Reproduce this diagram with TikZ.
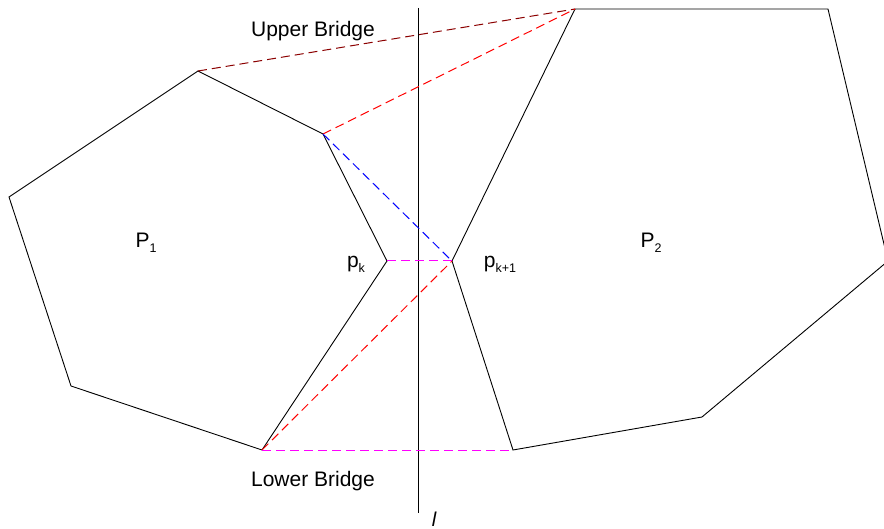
\documentclass[tikz,border=0pt]{standalone}
\usepackage{fontspec}
\setmainfont{Liberation Sans}
\definecolor{bridgedark}{RGB}{139,0,0}
\definecolor{bridgemag}{RGB}{255,0,255}
\newcommand\lowsub[1]{\raisebox{-0.45ex}{\fontsize{12.5}{13}\selectfont #1}}

\begin{document}
\begin{tikzpicture}[
  x=1pt, y=-1pt,
  hull/.style={draw, line width=0.9pt, line join=miter},
  brg/.style={line width=1pt, dash pattern=on 9pt off 5pt},
  lab/.style={font=\fontsize{21}{25}\selectfont, inner sep=0pt}
]
\useasboundingbox (0,0) rectangle (884,529);
\clip (0,0) rectangle (884,529);

% ── hull P1 (left) ───────────────────────────────────────────────────
\coordinate (a1) at (9,197);
\coordinate (a2) at (198,71);
\coordinate (a3) at (323,134);
\coordinate (pk) at (387,261);
\coordinate (a5) at (262,450);
\coordinate (a6) at (71,386);
\draw[hull] (a1) -- (a2) -- (a3) -- (pk) -- (a5) -- (a6) -- cycle;

% ── hull P2 (right) ──────────────────────────────────────────────────
\coordinate (b1) at (575,9);
\coordinate (b2) at (828,9);
\coordinate (b3) at (888,261);
\coordinate (b4) at (702,417);
\coordinate (b5) at (513,450);
\coordinate (pk1) at (452,261);
\draw[hull] (b1) -- (b2) -- (b3) -- (b4) -- (b5) -- (pk1) -- cycle;

% ── dividing line ────────────────────────────────────────────────────
\coordinate (ltop) at (418,8);
\coordinate (lbot) at (418,513);
\draw[line width=0.9pt] (ltop) -- (lbot);
\node[lab, font=\fontsize{20}{24}\selectfont\itshape] (lname) at (434,519) {l};

% ── bridges and merge steps ──────────────────────────────────────────
\draw[brg, bridgedark] (a2) -- (b1);
\draw[brg, red] (a3) -- (b1);
\draw[brg, red] (a5) -- (pk1);
\draw[brg, blue] (a3) -- (pk1);
\draw[brg, bridgemag] (pk) -- (pk1);
\draw[brg, bridgemag] (a5) -- (b5);

% ── labels ───────────────────────────────────────────────────────────
\node[lab] (ub) at (313,31) {Upper Bridge};
\node[lab] (lb) at (313,481) {Lower Bridge};
\node[lab] (p1) at (146,243) {P\lowsub{1}};
\node[lab] (p2) at (651,243) {P\lowsub{2}};
\node[lab] (pklab) at (356,264) {p\lowsub{k}};
\node[lab] (pk1lab) at (500,264) {p\lowsub{k+1}};

\end{tikzpicture}
\end{document}
